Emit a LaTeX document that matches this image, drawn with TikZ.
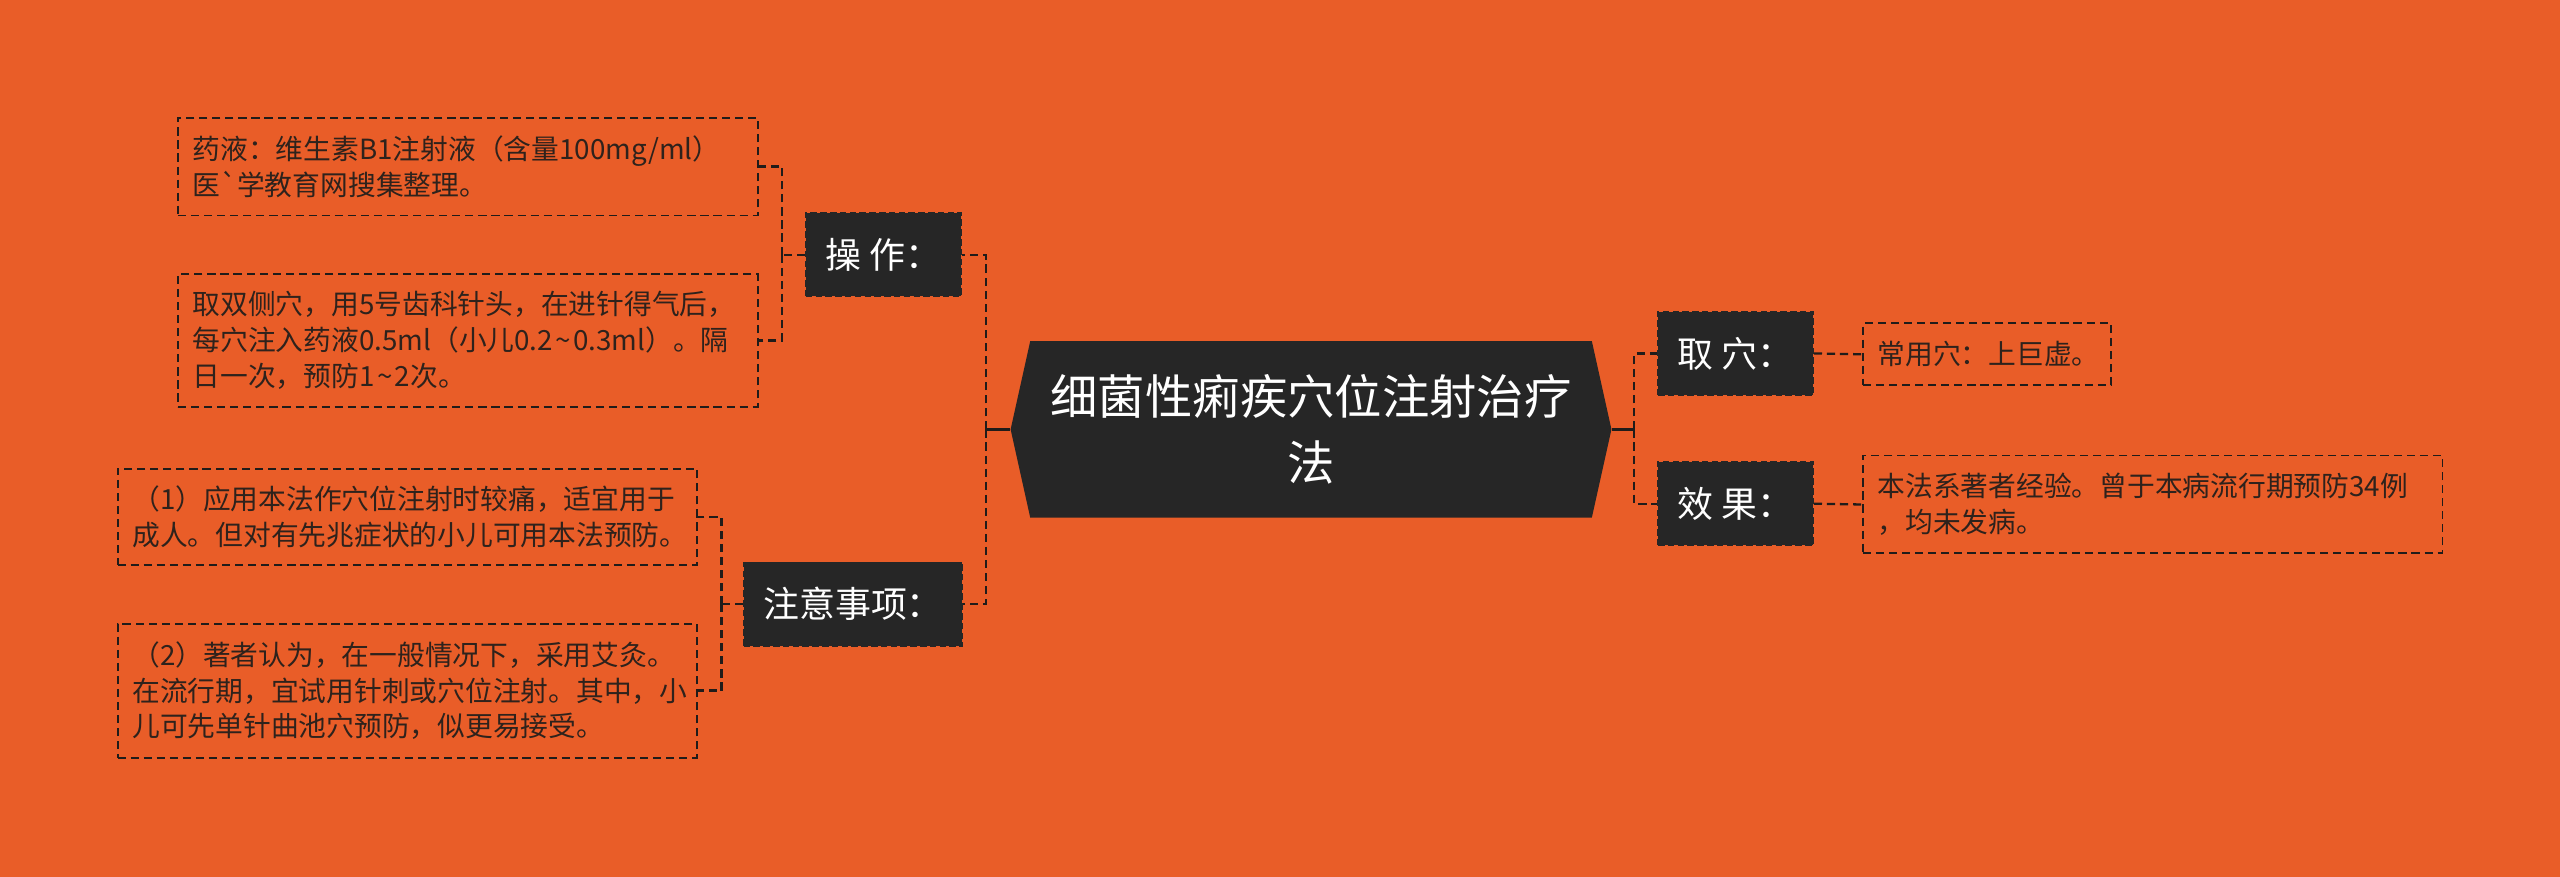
\documentclass[tikz,border=0pt]{standalone}
\usepackage{fontspec}
\setmainfont{Noto Sans CJK SC}
\newfontfamily\cjk{Noto Sans CJK SC}
\definecolor{bg}{RGB}{233,93,40}
\definecolor{dk}{RGB}{38,38,38}
\definecolor{ln}{RGB}{32,28,26}
\definecolor{tx}{RGB}{46,34,28}
\newcommand{\tld}{\hspace{1.5pt}{\char"7E}\hspace{1.5pt}}
\begin{document}
\begin{tikzpicture}[x=1pt,y=-1pt,
  leaf/.style={draw=ln, dash pattern=on 5pt off 3pt, line width=1.2pt, text=tx, align=left,
    inner xsep=9pt, inner ysep=0pt, font=\cjk\fontsize{17}{22}\selectfont, anchor=center},
  mid/.style={fill=dk, draw=black!85, dash pattern=on 4pt off 2pt, line width=1pt, text=white,
    font=\cjk\fontsize{22}{26}\selectfont, inner xsep=12pt, minimum height=51pt},
  conn/.style={draw=ln, line width=1.4pt, dash pattern=on 5pt off 3pt},
  stem/.style={draw=ln, line width=1.4pt}]
\useasboundingbox (0,0) rectangle (1568,537);
\fill[bg] (0,0) rectangle (1568,537);

% central node
\node[fill=bg, minimum width=368pt, minimum height=108pt, inner sep=0pt, text=white, align=center,
  font=\cjk\fontsize{29}{40}\selectfont,
  path picture={\fill[dk] ([xshift=12pt]path picture bounding box.north west)
    -- ([xshift=-12pt]path picture bounding box.north east)
    -- (path picture bounding box.east)
    -- ([xshift=-12pt]path picture bounding box.south east)
    -- ([xshift=12pt]path picture bounding box.south west)
    -- (path picture bounding box.west) -- cycle;}] (C) at (803,263) {细菌性痢疾穴位注射治疗\\法};

% middle nodes
\node[mid] (op) at (541,156) {操 作：};
\node[mid] (zy) at (522.5,370) {注意事项：};
\node[mid] (qx) at (1063,216.5) {取 穴：};
\node[mid] (xg) at (1063,308.5) {效 果：};

% leaves
\node[leaf, text width=337pt, minimum height=60pt] (l1) at (286.5,102) {药液：维生素B1注射液（含量100mg/ml）\\医`学教育网搜集整理。};
\node[leaf, text width=337pt, minimum height=81pt] (l2) at (286.5,208.5) {取双侧穴，用5号齿科针头，在进针得气后，\\每穴注入药液0.5ml（小儿0.2\tld 0.3ml）。隔\\日一次，预防1\tld 2次。};
\node[leaf, text width=337pt, minimum height=59pt] (l3) at (249.5,316.5) {（1）应用本法作穴位注射时较痛，适宜用于\\成人。但对有先兆症状的小儿可用本法预防。};
\node[leaf, text width=337pt, minimum height=82pt] (l4) at (249.5,423) {（2）著者认为，在一般情况下，采用艾灸。\\在流行期，宜试用针刺或穴位注射。其中，小\\儿可先单针曲池穴预防，似更易接受。};
\node[leaf, text width=134pt, minimum height=38pt] (l5) at (1217,217) {常用穴：上巨虚。};
\node[leaf, text width=337pt, minimum height=60pt] (l6) at (1318.5,309) {本法系著者经验。曾于本病流行期预防34例\\，均未发病。};

% junctions
\coordinate (jl) at (604,263);
\coordinate (jr) at (1001,263);
\coordinate (jo) at (479,156);
\coordinate (jz) at (442,370);

% connectors
\draw[stem] (C.west) -- (jl);
\draw[conn] (jl) |- (op.east);
\draw[conn] (jl) |- (zy.east);
\draw[stem] (C.east) -- (jr);
\draw[conn] (jr) |- (qx.west);
\draw[conn] (jr) |- (xg.west);
\draw[conn] (op.west) -- (jo);
\draw[conn] (jo) |- (l1.east);
\draw[conn] (jo) |- (l2.east);
\draw[conn] (zy.west) -- (jz);
\draw[conn] (jz) |- (l3.east);
\draw[conn] (jz) |- (l4.east);
\draw[conn] (qx.east) -- (l5.west);
\draw[conn] (xg.east) -- (l6.west);
\end{tikzpicture}
\end{document}
